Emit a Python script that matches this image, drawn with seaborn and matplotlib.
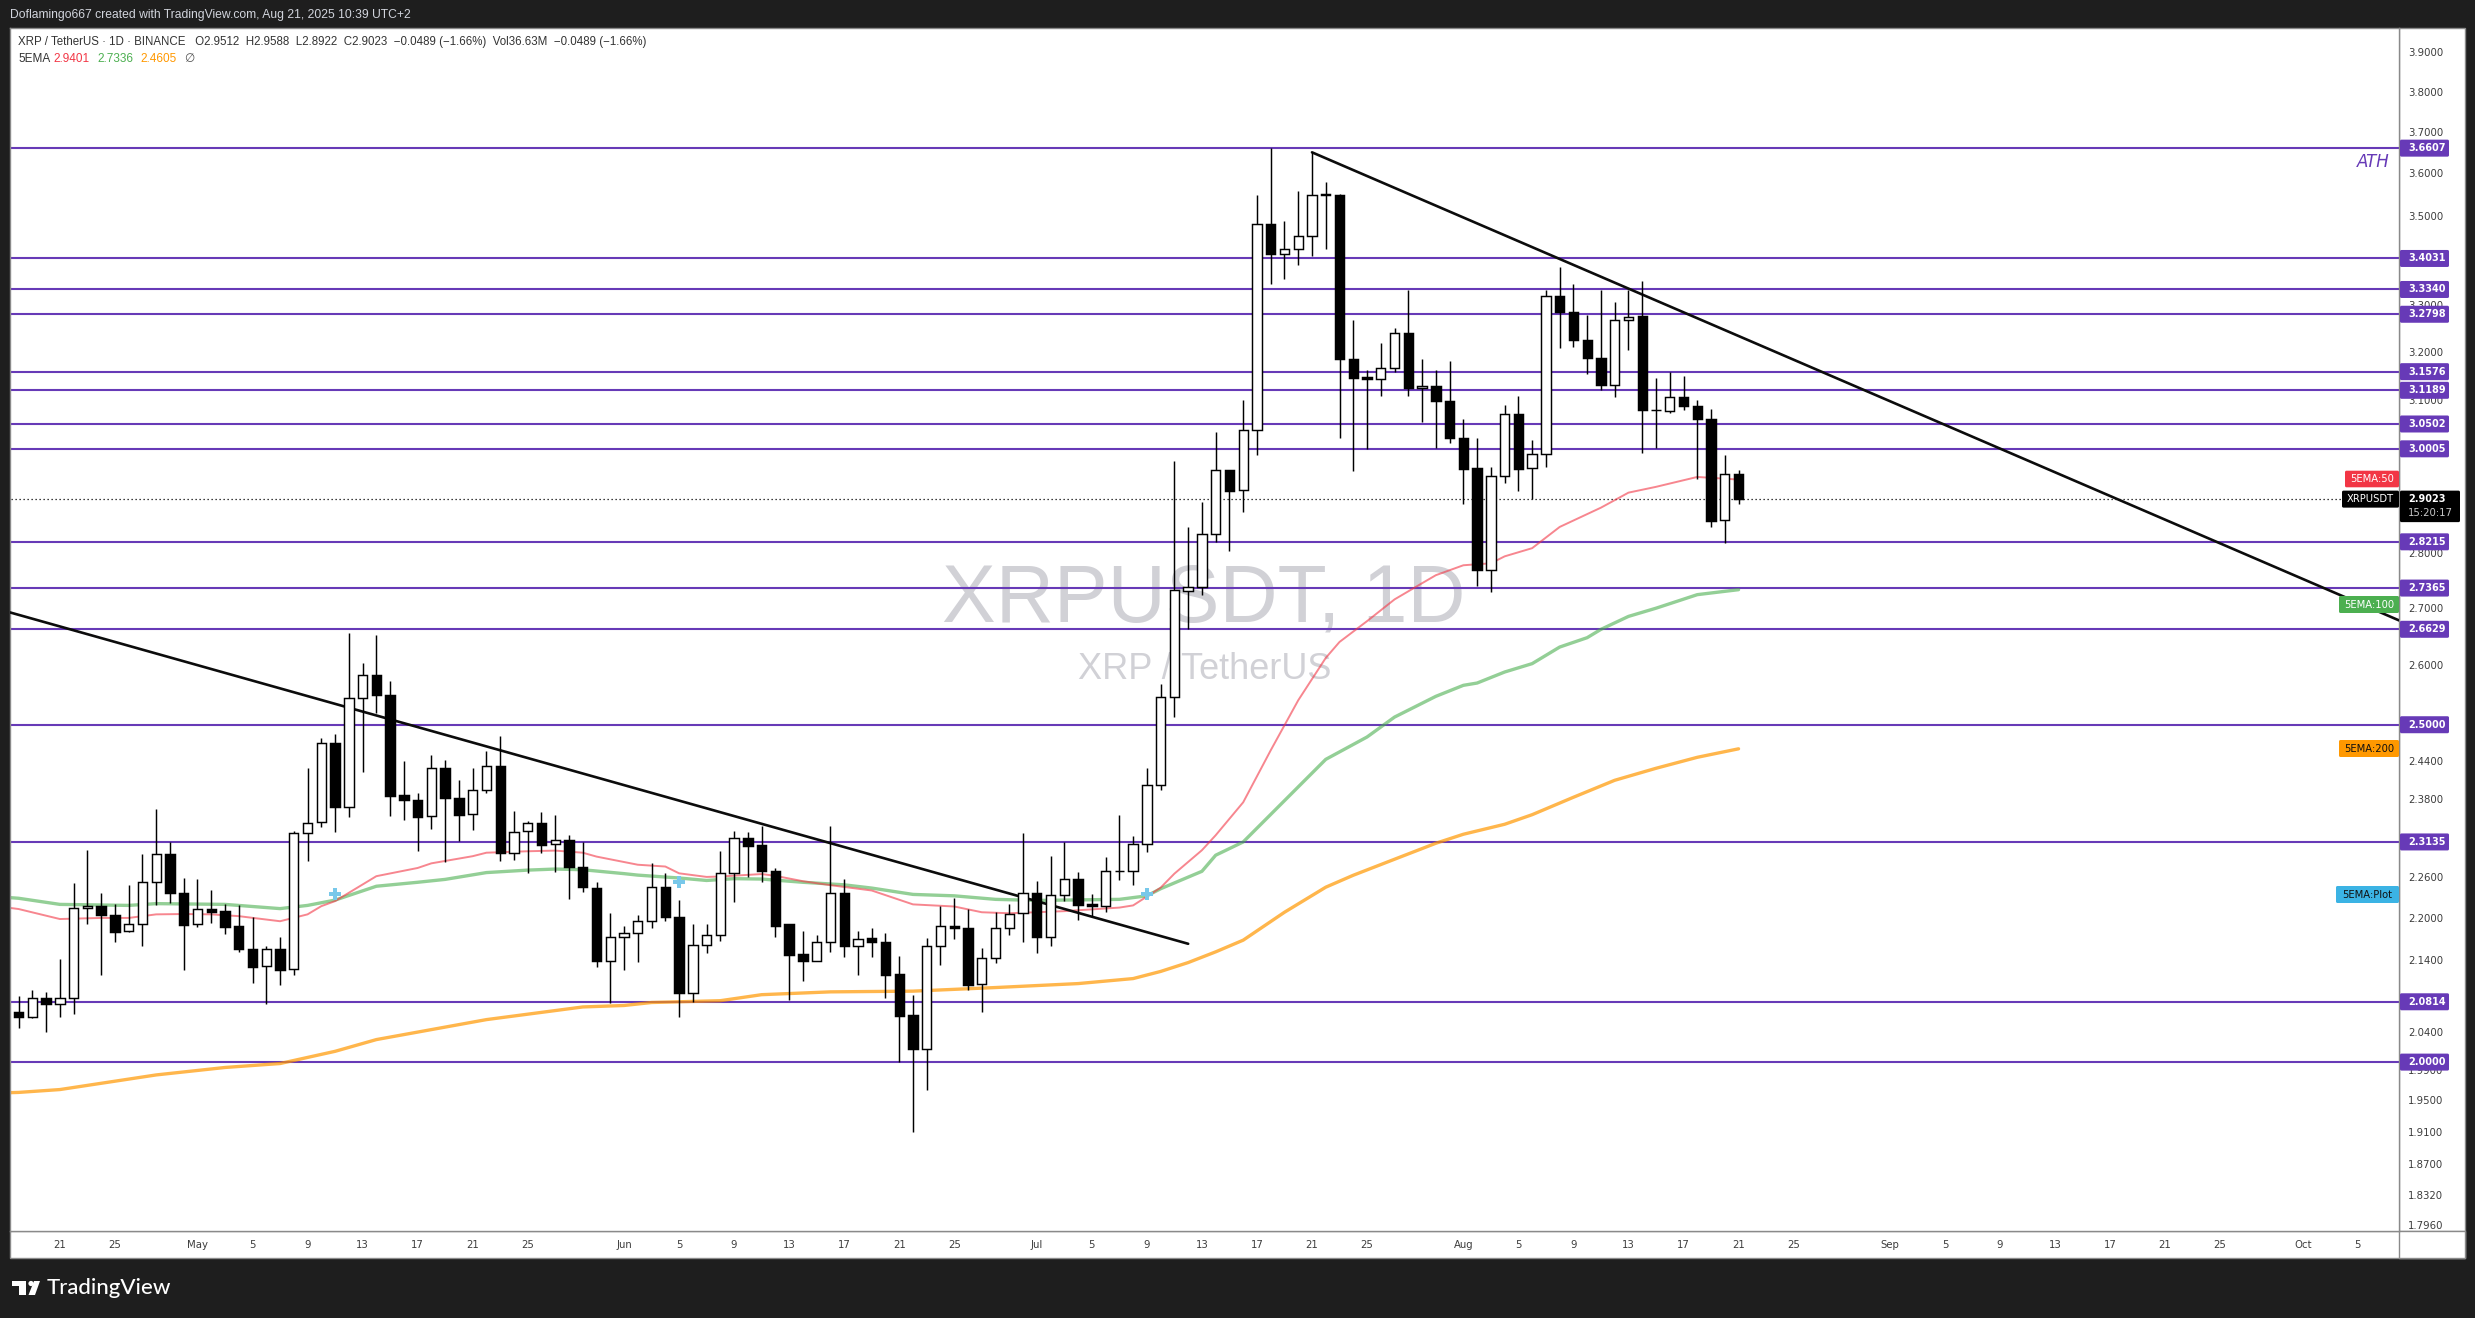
import pandas as pd
import matplotlib.pyplot as plt
import matplotlib.dates as mdates
from matplotlib.patches import FancyBboxPatch, Polygon, Circle, Rectangle
from matplotlib.transforms import IdentityTransform
import seaborn as sns

# daily candles, 18 Apr -> 21 Aug 2025
opens = [2.067, 2.061, 2.087, 2.079, 2.086, 2.214, 2.218, 2.205, 2.181, 2.191,
         2.253, 2.295, 2.237, 2.191, 2.213, 2.210, 2.188, 2.156, 2.131, 2.155,
         2.127, 2.327, 2.344, 2.470, 2.367, 2.544, 2.583, 2.550, 2.386, 2.379,
         2.353, 2.429, 2.381, 2.356, 2.395, 2.432, 2.296, 2.331, 2.342, 2.310,
         2.317, 2.275, 2.244, 2.139, 2.173, 2.179, 2.196, 2.245, 2.201, 2.093,
         2.161, 2.176, 2.267, 2.320, 2.309, 2.270, 2.191, 2.148, 2.139, 2.166,
         2.237, 2.159, 2.171, 2.165, 2.120, 2.063, 2.017, 2.159, 2.189, 2.186,
         2.106, 2.142, 2.185, 2.207, 2.236, 2.172, 2.233, 2.257, 2.220, 2.218,
         2.270, 2.270, 2.311, 2.403, 2.547, 2.732, 2.739, 2.837, 2.958, 2.919,
         3.039, 3.482, 3.413, 3.425, 3.455, 3.551, 3.550, 3.185, 3.146, 3.142,
         3.165, 3.240, 3.123, 3.128, 3.097, 3.023, 2.962, 2.770, 2.948, 3.071,
         2.962, 2.991, 3.319, 3.284, 3.224, 3.186, 3.130, 3.268, 3.275, 3.079,
         3.077, 3.106, 3.087, 3.061, 2.862, 2.9512]
closes = [2.061, 2.087, 2.079, 2.086, 2.214, 2.218, 2.205, 2.180, 2.191, 2.253,
          2.295, 2.237, 2.190, 2.213, 2.209, 2.187, 2.156, 2.130, 2.155, 2.126,
          2.327, 2.343, 2.470, 2.367, 2.544, 2.583, 2.550, 2.385, 2.379, 2.352,
          2.429, 2.381, 2.355, 2.395, 2.432, 2.296, 2.329, 2.342, 2.309, 2.317,
          2.275, 2.245, 2.139, 2.173, 2.179, 2.196, 2.245, 2.201, 2.093, 2.161,
          2.176, 2.267, 2.320, 2.308, 2.270, 2.189, 2.147, 2.139, 2.166, 2.237,
          2.159, 2.170, 2.165, 2.119, 2.062, 2.017, 2.159, 2.189, 2.186, 2.105,
          2.142, 2.185, 2.206, 2.236, 2.172, 2.233, 2.257, 2.219, 2.218, 2.270,
          2.269, 2.311, 2.403, 2.547, 2.733, 2.739, 2.836, 2.958, 2.918, 3.039,
          3.482, 3.413, 3.425, 3.455, 3.549, 3.549, 3.184, 3.144, 3.142, 3.166,
          3.240, 3.123, 3.128, 3.096, 3.022, 2.961, 2.770, 2.947, 3.070, 2.961,
          2.990, 3.319, 3.284, 3.224, 3.186, 3.130, 3.267, 3.274, 3.078, 3.078,
          3.105, 3.086, 3.060, 2.861, 2.951, 2.9023]
highs = [2.090, 2.098, 2.095, 2.141, 2.252, 2.301, 2.237, 2.221, 2.248, 2.295,
         2.364, 2.314, 2.259, 2.257, 2.241, 2.221, 2.219, 2.201, 2.159, 2.172,
         2.330, 2.429, 2.478, 2.485, 2.656, 2.605, 2.652, 2.573, 2.440, 2.390,
         2.450, 2.442, 2.410, 2.429, 2.457, 2.481, 2.361, 2.345, 2.359, 2.355,
         2.324, 2.314, 2.253, 2.207, 2.189, 2.205, 2.282, 2.266, 2.227, 2.191,
         2.191, 2.299, 2.330, 2.328, 2.338, 2.274, 2.192, 2.181, 2.176, 2.338,
         2.257, 2.181, 2.186, 2.179, 2.145, 2.091, 2.171, 2.217, 2.230, 2.213,
         2.157, 2.209, 2.220, 2.327, 2.254, 2.292, 2.314, 2.268, 2.235, 2.290,
         2.355, 2.322, 2.429, 2.568, 2.976, 2.849, 2.896, 3.035, 2.958, 3.100,
         3.550, 3.661, 3.488, 3.559, 3.651, 3.579, 3.552, 3.267, 3.162, 3.219,
         3.251, 3.332, 3.185, 3.162, 3.179, 3.060, 3.022, 2.964, 3.089, 3.108,
         3.019, 3.333, 3.383, 3.346, 3.279, 3.333, 3.307, 3.333, 3.352, 3.144,
         3.156, 3.148, 3.098, 3.081, 2.989, 2.9588]
lows = [2.045, 2.059, 2.040, 2.061, 2.065, 2.192, 2.118, 2.165, 2.180, 2.159,
        2.219, 2.222, 2.125, 2.187, 2.193, 2.177, 2.151, 2.108, 2.079, 2.105,
        2.119, 2.285, 2.337, 2.329, 2.352, 2.423, 2.519, 2.354, 2.348, 2.300,
        2.334, 2.283, 2.315, 2.332, 2.390, 2.285, 2.286, 2.267, 2.297, 2.268,
        2.228, 2.238, 2.130, 2.080, 2.125, 2.137, 2.185, 2.196, 2.060, 2.081,
        2.149, 2.167, 2.224, 2.261, 2.253, 2.172, 2.084, 2.110, 2.139, 2.151,
        2.144, 2.119, 2.144, 2.086, 2.000, 1.910, 1.963, 2.133, 2.170, 2.097,
        2.067, 2.135, 2.175, 2.166, 2.149, 2.159, 2.225, 2.197, 2.203, 2.209,
        2.256, 2.249, 2.298, 2.395, 2.513, 2.664, 2.724, 2.821, 2.804, 2.878,
        2.988, 3.346, 3.357, 3.388, 3.408, 3.424, 3.022, 2.957, 3.000, 3.108,
        3.157, 3.108, 3.054, 3.002, 3.012, 2.893, 2.740, 2.729, 2.934, 2.918,
        2.903, 2.965, 3.207, 3.209, 3.153, 3.119, 3.105, 3.203, 2.992, 3.003,
        3.072, 3.078, 2.941, 2.849, 2.819, 2.8922]

# EMA readings, day number counted from 17 Apr
ema50_days = [0, 1, 4, 7, 9, 11, 13, 15, 17, 20, 22, 23, 24, 27, 30, 31, 34, 35, 38, 40, 42, 43,
              46, 48, 49, 51, 52, 55, 56, 58, 60, 63, 66, 69, 71, 73, 77, 81, 82, 84, 85, 87,
              88, 90, 92, 94, 96, 97, 99, 101, 103, 104, 106, 108, 109, 111, 113, 116, 118,
              120, 123, 126]
ema50 = [2.2157, 2.2131, 2.1985, 2.2001, 2.2001, 2.2053, 2.2058, 2.2053, 2.2027, 2.1953, 2.2053,
         2.2173, 2.2247, 2.2617, 2.2740, 2.2810, 2.2918, 2.2971, 2.2993, 2.3003, 2.2971, 2.2912,
         2.2789, 2.2762, 2.2660, 2.2606, 2.2612, 2.2649, 2.2622, 2.2542, 2.2483, 2.2404, 2.2199,
         2.2168, 2.2084, 2.2069, 2.2100, 2.2152, 2.2184, 2.2446, 2.2655, 2.3009, 2.3238, 2.3750,
         2.4581, 2.5408, 2.6130, 2.6407, 2.6773, 2.7161, 2.7453, 2.7599, 2.7781, 2.7817, 2.7945,
         2.8097, 2.8494, 2.8860, 2.9148, 2.9260, 2.9452, 2.9401]
ema100_days = [0, 1, 4, 9, 11, 16, 20, 22, 24, 27, 30, 32, 35, 38, 40, 42, 45, 46, 49, 51, 53, 55,
               58, 61, 63, 66, 69, 72, 75, 81, 83, 84, 87, 88, 90, 96, 99, 101, 104, 106, 107,
               109, 111, 113, 115, 116, 118, 120, 123, 126]
ema100 = [2.2304, 2.2289, 2.2199, 2.2184, 2.2210, 2.2199, 2.2137, 2.2184, 2.2262, 2.2467, 2.2526,
          2.2569, 2.2671, 2.2708, 2.2724, 2.2714, 2.2655, 2.2633, 2.2590, 2.2553, 2.2580, 2.2574,
          2.2526, 2.2488, 2.2440, 2.2346, 2.2325, 2.2273, 2.2257, 2.2273, 2.2325, 2.2430, 2.2690,
          2.2933, 2.3135, 2.4434, 2.4798, 2.5127, 2.5474, 2.5660, 2.5699, 2.5887, 2.6031, 2.6318,
          2.6482, 2.6628, 2.6857, 2.7003, 2.7246, 2.7336]
ema200_days = [0, 1, 4, 11, 16, 20, 24, 27, 35, 42, 45, 47, 52, 55, 60, 66, 72, 78, 82, 84, 86, 88,
               90, 93, 96, 98, 101, 104, 106, 109, 111, 114, 117, 120, 123, 126]
ema200 = [1.9598, 1.9603, 1.9640, 1.9831, 1.9929, 1.9981, 2.0143, 2.0300, 2.0570, 2.0743, 2.0763,
          2.0804, 2.0829, 2.0912, 2.0951, 2.0961, 2.1011, 2.1066, 2.1136, 2.1236, 2.1361, 2.1513,
          2.168, 2.2084, 2.2453, 2.2631, 2.2872, 2.3115, 2.3253, 2.3407, 2.3556, 2.3829, 2.4098,
          2.4290, 2.4467, 2.4605]
plot_days = [24, 49, 83]
plot_vals = [2.2349, 2.2527, 2.2349]

levels = [3.6607, 3.4031, 3.3340, 3.2798, 3.1576, 3.1189, 3.0502, 3.0005,
          2.8215, 2.7365, 2.6629, 2.5000, 2.3135, 2.0814, 2.0000]

trend1_dates = ['2025-04-17 09:00', '2025-07-12 00:00']
trend1_vals = [2.6928, 2.1628]
trend2_dates = ['2025-07-21 00:00', '2025-10-08 00:00']
trend2_vals = [3.6506, 2.6786]

last_price = 2.9023

ytick_vals = [3.9, 3.8, 3.7, 3.6, 3.5, 3.3, 3.2, 3.1, 2.8, 2.7, 2.6, 2.44, 2.38, 2.26, 2.2,
              2.14, 2.08, 2.04, 1.99, 1.95, 1.91, 1.87, 1.832, 1.796]
ytick_labels = ['%.4f' % v for v in ytick_vals]

xtick_dates = ['04-21', '04-25', '05-01', '05-05', '05-09', '05-13', '05-17', '05-21', '05-25',
               '06-01', '06-05', '06-09', '06-13', '06-17', '06-21', '06-25',
               '07-01', '07-05', '07-09', '07-13', '07-17', '07-21', '07-25',
               '08-01', '08-05', '08-09', '08-13', '08-17', '08-21', '08-25',
               '09-01', '09-05', '09-09', '09-13', '09-17', '09-21', '09-25',
               '10-01', '10-05']
xtick_labels = ['21', '25', 'May', '5', '9', '13', '17', '21', '25',
                'Jun', '5', '9', '13', '17', '21', '25',
                'Jul', '5', '9', '13', '17', '21', '25',
                'Aug', '5', '9', '13', '17', '21', '25',
                'Sep', '5', '9', '13', '17', '21', '25',
                'Oct', '5']

PURPLE = '#673ab7'
W, H = 2475, 1318
sns.set_theme(style='white')
plt.rcParams['font.family'] = ['DejaVu Sans']

fig = plt.figure(figsize=(W / 100, H / 100), dpi=100, facecolor='#1e1e1e')
ax = fig.add_axes([10.3 / W, 1 - 1231 / H, (2399.3 - 10.3) / W, (1231 - 27.8) / H])
ax.set_facecolor('white')
ax.set_yscale('log')


def box(x0, y0, x1, y1, fc, ec='none', lw=0, z=5, r=0):
    # rectangle in picture pixels, y counted from the top
    style = 'round,pad=0,rounding_size=%g' % r if r else 'square,pad=0'
    p = FancyBboxPatch((x0, H - y1), x1 - x0, y1 - y0, boxstyle=style, fc=fc, ec=ec, lw=lw,
                       transform=IdentityTransform(), zorder=z)
    fig.add_artist(p)


def label(x, y, s, color, size=7.2, ha='left', z=6, **kw):
    fig.text(x / W, 1 - y / H, s, color=color, fontsize=size, ha=ha, va='center', zorder=z, **kw)


# white price scale and time scale behind the axes
box(2399, 27.8, 2465, 1257.6, 'white', '#8a8a8a', 1, z=-2)
box(10, 1231, 2465, 1257.6, 'white', '#8a8a8a', 1, z=-2)
box(2399, 1231, 2465, 1257.6, 'white', '#8a8a8a', 1, z=-1)

dates = pd.date_range('2025-04-18', periods=len(opens))
start = pd.Timestamp('2025-04-17')
df = pd.DataFrame({'date': dates, 'open': opens, 'high': highs, 'low': lows, 'close': closes})
df['bottom'] = df[['open', 'close']].min(axis=1)
df['height'] = (df['close'] - df['open']).abs()
up = df['close'] >= df['open']

# watermark
ax.text(0.4995, 0.5237, 'XRPUSDT, 1D', transform=ax.transAxes, fontsize=58, family='Liberation Sans',
        color='#d1d1d6', ha='center', va='center', zorder=0)
ax.text(0.4998, 0.4668, 'XRP / TetherUS', transform=ax.transAxes, fontsize=26, family='Liberation Sans',
        color='#d1d1d6', ha='center', va='center', zorder=0)

ax.hlines(levels, pd.Timestamp('2025-04-01'), pd.Timestamp('2025-10-20'), color=PURPLE, lw=1.5, zorder=1)
ax.hlines(last_price, pd.Timestamp('2025-04-01'), pd.Timestamp('2025-10-20'), color='black', lw=0.9,
          linestyles=(0, (1, 2.2)), zorder=1.5)

sns.lineplot(x=[start + pd.Timedelta(days=d) for d in ema200_days], y=ema200, ax=ax, color='#ff9800',
             lw=2.4, alpha=0.7, errorbar=None, zorder=2)
sns.lineplot(x=[start + pd.Timedelta(days=d) for d in ema100_days], y=ema100, ax=ax, color='#4caf50',
             lw=2.4, alpha=0.6, errorbar=None, zorder=2)
sns.lineplot(x=[start + pd.Timedelta(days=d) for d in ema50_days], y=ema50, ax=ax, color='#f23645',
             lw=1.4, alpha=0.6, errorbar=None, zorder=2)
sns.scatterplot(x=[start + pd.Timedelta(days=d) for d in plot_days], y=plot_vals, ax=ax, marker='P',
                s=80, color='#78c8ea', linewidth=0, zorder=2.5)

sns.lineplot(x=pd.to_datetime(trend1_dates), y=trend1_vals, ax=ax, color='#0c0c0c', lw=1.9, errorbar=None, zorder=3)
sns.lineplot(x=pd.to_datetime(trend2_dates), y=trend2_vals, ax=ax, color='#0c0c0c', lw=1.9, errorbar=None, zorder=3)

# candles
ax.vlines(df['date'], df['low'], df['high'], color='black', lw=1.05, zorder=4)
ax.bar(df.loc[up, 'date'], df.loc[up, 'height'], bottom=df.loc[up, 'bottom'], width=0.68,
       facecolor='white', edgecolor='black', lw=1.05, zorder=5)
ax.bar(df.loc[~up, 'date'], df.loc[~up, 'height'], bottom=df.loc[~up, 'bottom'], width=0.68,
       facecolor='black', edgecolor='black', lw=1.05, zorder=5)

ax.set_xlim(pd.Timestamp('2025-04-18') - pd.Timedelta(days=0.603), pd.Timestamp('2025-04-18') + pd.Timedelta(days=173.02))
ax.set_ylim(1.7886, 3.964)
ax.set_xlabel('')
ax.set_ylabel('')

ax.yaxis.tick_right()
ax.set_yticks(ytick_vals)
ax.set_yticklabels(ytick_labels, fontsize=7.3, color='#3c3c3c')
ax.set_yticks([], minor=True)
ax.tick_params(axis='y', which='both', length=0, pad=6.5)
ax.set_xticks([pd.Timestamp('2025-' + d) for d in xtick_dates])
ax.set_xticklabels(xtick_labels, fontsize=7.3, color='#3c3c3c')
ax.xaxis.set_minor_locator(mdates.DayLocator(interval=1000))
ax.tick_params(axis='x', which='both', length=0, pad=6.5)
for side in ax.spines:
    ax.spines[side].set_color('#8a8a8a')
    ax.spines[side].set_linewidth(1)

label(2357, 162, 'ATH', PURPLE, size=12, style='italic')

# price tags on the right scale
fig.canvas.draw()


def py(price):
    return H - ax.transData.transform((mdates.date2num(start), price))[1]


for lv in levels:
    y = py(lv)
    box(2400, y - 8.5, 2449, y + 8.5, PURPLE, r=1.5)
    label(2408, y, '%.4f' % lv, 'white', size=7.0, fontweight='bold')

y = 479
box(2345, y - 8.3, 2399, y + 8.3, '#f23645', r=1.5)
label(2372, y, '5EMA:50', 'white', ha='center')
y = py(last_price)
box(2342, y - 8.5, 2399, y + 8.5, 'black', r=1.5)
label(2370.5, y, 'XRPUSDT', 'white', ha='center')
box(2400, y - 8.5, 2460, y + 23, 'black', r=1.5)
label(2408, y, '2.9023', 'white', size=7.0, fontweight='bold')
label(2408, y + 14, '15:20:17', '#c8c8c8', size=7.3)
y = 604.5
box(2339, y - 8.5, 2399, y + 8.5, '#4caf50', r=1.5)
label(2369, y, '5EMA:100', 'white', ha='center')
y = 748.5
box(2339, y - 8.5, 2399, y + 8.5, '#ff9800', r=1.5)
label(2369, y, '5EMA:200', '#111111', ha='center')
y = 894.5
box(2336, y - 8.5, 2399, y + 8.5, '#3bb3e4', r=1.5)
label(2367.5, y, '5EMA:Plot', '#111111', ha='center')

# header texts
label(10, 15, 'Doflamingo667 created with TradingView.com, Aug 21, 2025 10:39 UTC+2', '#d1d4dc', size=8.7,
      family='Liberation Sans')
label(18, 41.5, 'XRP / TetherUS \u00b7 1D \u00b7 BINANCE   O2.9512  H2.9588  L2.8922  C2.9023  \u22120.0489 (\u22121.66%)  '
      'Vol36.63M  \u22120.0489 (\u22121.66%)', '#333333', size=8.3, family='Liberation Sans')
label(18, 59, '5EMA', '#333333', size=8.5, family='Liberation Sans')
label(53.5, 59, '2.9401', '#f23645', size=8.5, family='Liberation Sans')
label(97, 59, '2.7336', '#4caf50', size=8.5, family='Liberation Sans')
label(140, 59, '2.4605', '#ff9800', size=8.5, family='Liberation Sans')
label(184, 59, '\u2205', '#555555', size=8.5, family='DejaVu Sans')

# TradingView logo
fig.add_artist(Rectangle((12, H - 1286), 14, 5, fc='white', ec='none', transform=IdentityTransform(), zorder=5))
fig.add_artist(Rectangle((19, H - 1295), 7, 9, fc='white', ec='none', transform=IdentityTransform(), zorder=5))
fig.add_artist(Circle((31, H - 1283.5), 2.6, fc='white', ec='none', transform=IdentityTransform(), zorder=5))
fig.add_artist(Polygon([(34, H - 1281), (40, H - 1281), (35, H - 1295), (28.5, H - 1295)], closed=True, fc='white',
                       ec='none', transform=IdentityTransform(), zorder=5))
label(47, 1288, 'TradingView', 'white', size=16, family='Lato', fontweight='medium')

fig.savefig('out.png', dpi=100, facecolor=fig.get_facecolor())
